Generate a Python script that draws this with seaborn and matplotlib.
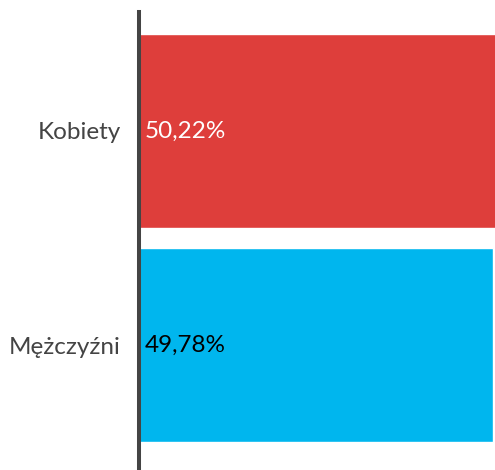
import pandas as pd
import numpy as np
import matplotlib.pyplot as plt
import seaborn as sns

sns.set_style("white")
plt.rcParams['font.family'] = ['Lato', 'DejaVu Sans']

categories = ['Kobiety', 'Mężczyźni']
values = [50.22, 49.78]
labels = ['50,22%', '49,78%']
colors = ['#de3e3b', '#00b6ee']
text_colors = ['white', 'black']

df = pd.DataFrame({'grupa': categories, 'procent': values})

fig = plt.figure(figsize=(4.95, 4.70), dpi=100)
ax = fig.add_axes([139/495, 0, 1 - 139/495, 458/470])

sns.barplot(data=df, x='procent', y='grupa', hue='grupa', palette=colors,
            width=0.907, legend=False, ax=ax, saturation=1)

ax.set_xlim(0, 50.08)
ax.set_ylim(1.584, -0.556)
ax.set_xlabel('')
ax.set_ylabel('')
ax.set_xticks([])
for s in ['top', 'right', 'bottom']:
    ax.spines[s].set_visible(False)
ax.spines['left'].set_linewidth(2.9)
ax.spines['left'].set_color('#444444')
ax.tick_params(axis='y', length=0, pad=13, labelsize=17.5, labelcolor='#444444')

for i, (v, lab) in enumerate(zip(values, labels)):
    ax.text(0.75, i, lab, va='center', ha='left', fontsize=17.5,
            color=text_colors[i])

fig.savefig('out.png', dpi=100)
